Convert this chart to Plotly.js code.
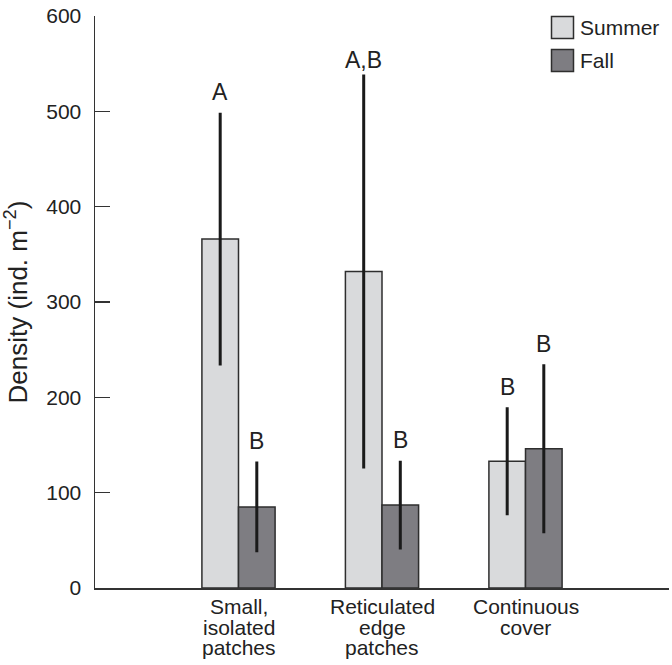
<!DOCTYPE html>
<html>
<head>
<meta charset="utf-8">
<script src="https://cdn.plot.ly/plotly-3.0.1.min.js"></script>
<style>html,body{margin:0;padding:0;background:#fff;}#chart{width:672px;height:665px;}</style>
</head>
<body>
<div id="chart"></div>
<script>
// ---- data ----
const categories = ["Small,<br>isolated<br>patches", "Reticulated<br>edge<br>patches", "Continuous<br>cover"];
const seriesNames = ["Summer", "Fall"];
const summerMean = [366, 332, 133];
const summerErr = [131, 205, 55];
const fallMean = [85, 87, 146];
const fallErr = [46, 45, 87];
const summerLetters = ["A", "A,B", "B"];
const fallLetters = ["B", "B", "B"];
const yTickVals = [0, 100, 200, 300, 400, 500, 600];
const yTitle = "Density (ind. m<sup>−2</sup>)";

// ---- style ----
const FONT = "Liberation Sans, Arial, Helvetica, sans-serif";
const FS = 21;
const FS_TITLE = 26;
const FS_LETTER = 23;
const TXT = "#222";
const colors = ["#d9dadc", "#7e7d82"];
const edge = "#2e2e2e";
const bargap = 0.49;
const W = 672, H = 665;
const M = {l: 95, r: 3, t: 16, b: 77};
const LINE_H = 20.5;

const idx = categories.map((c, i) => i);
const means = [summerMean, fallMean];
const errs = [summerErr, fallErr];
const letters = [summerLetters, fallLetters];

const traces = seriesNames.map((name, s) => ({
  type: "bar",
  name: name,
  x: idx,
  y: means[s],
  marker: {color: colors[s], line: {color: edge, width: 1.5}},
  error_y: {type: "data", array: errs[s], visible: true, color: "#1a1a1a", thickness: 3, width: 1.5},
  showlegend: false,
  hoverinfo: "skip"
}));

const annotations = [];
const off = (1 - bargap) / 4;
// significance letters
letters.forEach((arr, s) => {
  arr.forEach((t, i) => {
    const shift = (t.indexOf(",") >= 0) ? 1 : 7;
    annotations.push({
      x: i + (s === 0 ? -off : off), y: means[s][i] + errs[s][i],
      xref: "x", yref: "y", text: t, showarrow: false,
      yanchor: "bottom", yshift: shift,
      font: {family: FONT, size: FS_LETTER, color: TXT}
    });
  });
});
// category labels (tight line spacing)
categories.forEach((c, i) => {
  c.split("<br>").forEach((line, j) => {
    annotations.push({
      x: i, y: 0, xref: "x", yref: "y", text: line, showarrow: false,
      yanchor: "top", yshift: -(6 + j * LINE_H), borderpad: 0,
      font: {family: FONT, size: FS, color: TXT}
    });
  });
});
// legend (custom boxes)
const pw = W - M.l - M.r, ph = H - M.t - M.b;
const shapes = [];
const legX0 = 551.5, box = 22, legY0 = [16.5, 49.5];
seriesNames.forEach((name, s) => {
  const x0 = (legX0 - M.l) / pw, x1 = (legX0 + box - M.l) / pw;
  const y0 = 1 - (legY0[s] + box - M.t) / ph, y1 = 1 - (legY0[s] - M.t) / ph;
  shapes.push({type: "rect", xref: "paper", yref: "paper", x0: x0, x1: x1, y0: y0, y1: y1,
    fillcolor: colors[s], line: {color: edge, width: 1.5}});
  annotations.push({xref: "paper", yref: "paper", x: (legX0 + box + 4 - M.l) / pw, y: (y0 + y1) / 2,
    xanchor: "left", yanchor: "middle", text: name, showarrow: false,
    font: {family: FONT, size: FS, color: TXT}});
});

const layout = {
  width: W, height: H,
  margin: M,
  paper_bgcolor: "#fff", plot_bgcolor: "#fff",
  barmode: "group", bargap: bargap, bargroupgap: 0,
  font: {family: FONT, size: FS, color: TXT},
  xaxis: {
    type: "linear", range: [-1, 3], showticklabels: false, ticks: "", showgrid: false, zeroline: false,
    showline: true, linecolor: "#333", linewidth: 1.5, fixedrange: true
  },
  yaxis: {
    range: [0, 600], tickvals: yTickVals, ticks: "inside", ticklen: 15, tickwidth: 1.5, tickcolor: "#333",
    showline: true, linecolor: "#333", linewidth: 1.5, showgrid: false, zeroline: false,
    ticklabelstandoff: 8,
    tickfont: {family: FONT, size: FS, color: TXT},
    title: {text: yTitle, font: {family: FONT, size: FS_TITLE, color: TXT}, standoff: 19}
  },
  annotations: annotations,
  shapes: shapes
};

Plotly.newPlot("chart", traces, layout, {staticPlot: true, displayModeBar: false});
</script>
</body>
</html>
